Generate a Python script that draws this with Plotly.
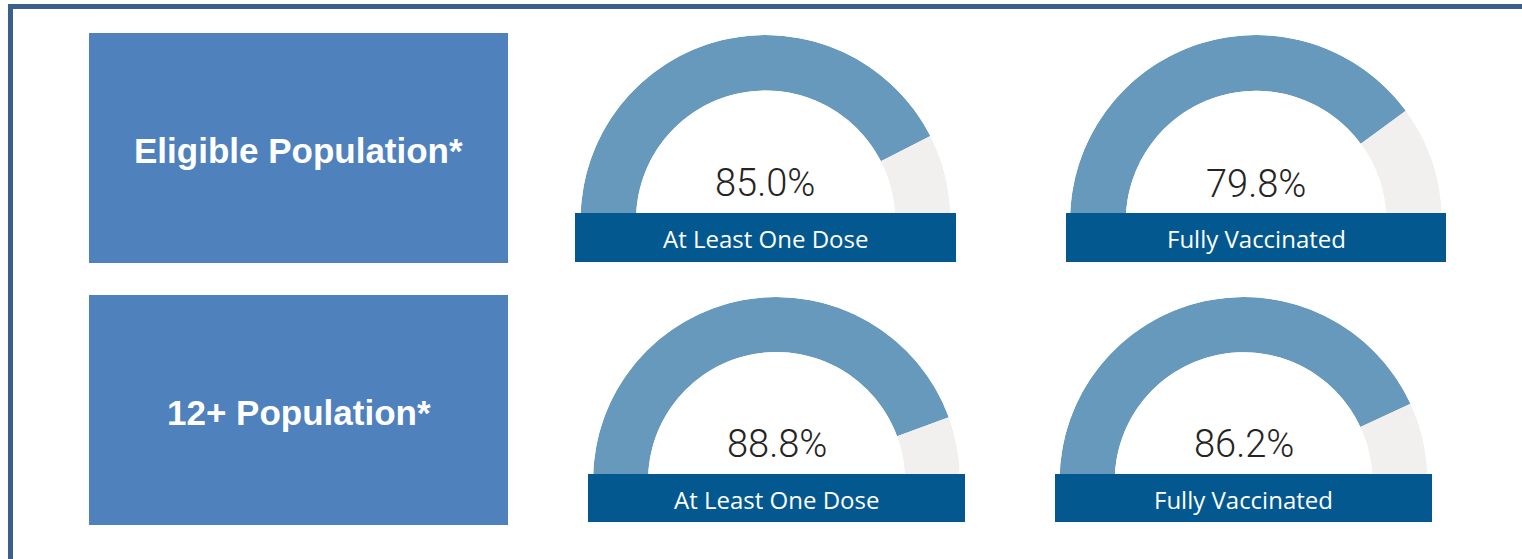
import plotly.graph_objects as go

W, H = 1522, 559

# ---- data ----
row_labels = ["Eligible Population*", "12+ Population*"]
gauge_labels = ["At Least One Dose", "Fully Vaccinated", "At Least One Dose", "Fully Vaccinated"]
gauge_values = [85.0, 79.8, 88.8, 86.2]
gauge_max = 100.0

# ---- styling / layout (pixel geometry) ----
BLUE = "#6699BC"
GREY = "#F1F0EF"
BAR = "#02588F"
BOX = "#4F81BD"
BORDER = "#3A5F8F"

# gauge centre x, centre y, outer radius (px)
gauge_geom = [(765.5, 220, 185), (1256, 221, 186), (776.5, 480.5, 183.5), (1243.5, 481, 184)]
# label bars x0, x1, y0, y1 (px)
bar_geom = [(575, 956, 213, 262), (1066, 1446, 213, 262), (588, 965, 474, 522), (1055, 1432, 474, 522)]
box_geom = [(89, 508, 33, 263), (89, 508, 295, 525)]
HOLE = 0.70


def px(x):
    return x / W


def py(y):
    return 1 - y / H


fig = go.Figure()
shapes = []
annotations = []

for i, (val, lab) in enumerate(zip(gauge_values, gauge_labels)):
    cx, cy, r = gauge_geom[i]
    name = "polar" if i == 0 else f"polar{i + 1}"
    span = 180.0 / gauge_max
    fig.add_trace(go.Barpolar(
        r=[1, 1],
        theta=[val * span / 2, (val + gauge_max) * span / 2],
        width=[val * span, (gauge_max - val) * span],
        marker=dict(color=[BLUE, GREY], line=dict(width=0)),
        subplot=name,
        showlegend=False,
        hoverinfo="skip",
    ))
    fig.update_layout(**{name: dict(
        domain=dict(x=[px(cx - r), px(cx + r)], y=[py(cy), py(cy - r)]),
        sector=[0, 180],
        hole=HOLE,
        bgcolor="rgba(0,0,0,0)",
        radialaxis=dict(visible=False, range=[0, 1]),
        angularaxis=dict(visible=False, direction="clockwise", rotation=180,
                         thetaunit="degrees", showgrid=False),
    )})
    # value text
    annotations.append(dict(
        x=px(cx), y=py(cy - 37), xref="paper", yref="paper",
        text=f"{val:.1f}%", showarrow=False, xanchor="center", yanchor="middle",
        font=dict(family="Roboto", size=38, color="#252423", weight=300),
    ))
    # label bar
    x0, x1, y0, y1 = bar_geom[i]
    shapes.append(dict(type="rect", xref="paper", yref="paper", layer="above",
                       x0=px(x0), x1=px(x1), y0=py(y1), y1=py(y0),
                       fillcolor=BAR, line=dict(width=0)))
    annotations.append(dict(
        x=px((x0 + x1) / 2), y=py((y0 + y1) / 2 + 1), xref="paper", yref="paper",
        text=lab, showarrow=False, xanchor="center", yanchor="middle",
        font=dict(family="Open Sans", size=24, color="white"),
    ))

for j, lab in enumerate(row_labels):
    x0, x1, y0, y1 = box_geom[j]
    shapes.append(dict(type="rect", xref="paper", yref="paper", layer="below",
                       x0=px(x0), x1=px(x1), y0=py(y1), y1=py(y0),
                       fillcolor=BOX, line=dict(width=0)))
    annotations.append(dict(
        x=px((x0 + x1) / 2), y=py((y0 + y1) / 2 + 2), xref="paper", yref="paper",
        text=f"<b>{lab}</b>", showarrow=False, xanchor="center", yanchor="middle",
        font=dict(family="Liberation Sans, Arial", size=35, color="white"),
    ))

# frame border (top and left)
shapes.append(dict(type="line", xref="paper", yref="paper", layer="above",
                   x0=px(8), x1=px(W), y0=py(6.5), y1=py(6.5),
                   line=dict(color=BORDER, width=5)))
shapes.append(dict(type="line", xref="paper", yref="paper", layer="above",
                   x0=px(10.5), x1=px(10.5), y0=py(4), y1=py(H),
                   line=dict(color=BORDER, width=5)))

fig.update_layout(
    width=W, height=H,
    margin=dict(l=0, r=0, t=0, b=0),
    paper_bgcolor="white",
    plot_bgcolor="white",
    shapes=shapes,
    annotations=annotations,
    showlegend=False,
)

fig.write_html("out.html",
               config={"displayModeBar": False},
               post_script="document.body.style.margin='0';document.body.style.overflow='hidden';")
